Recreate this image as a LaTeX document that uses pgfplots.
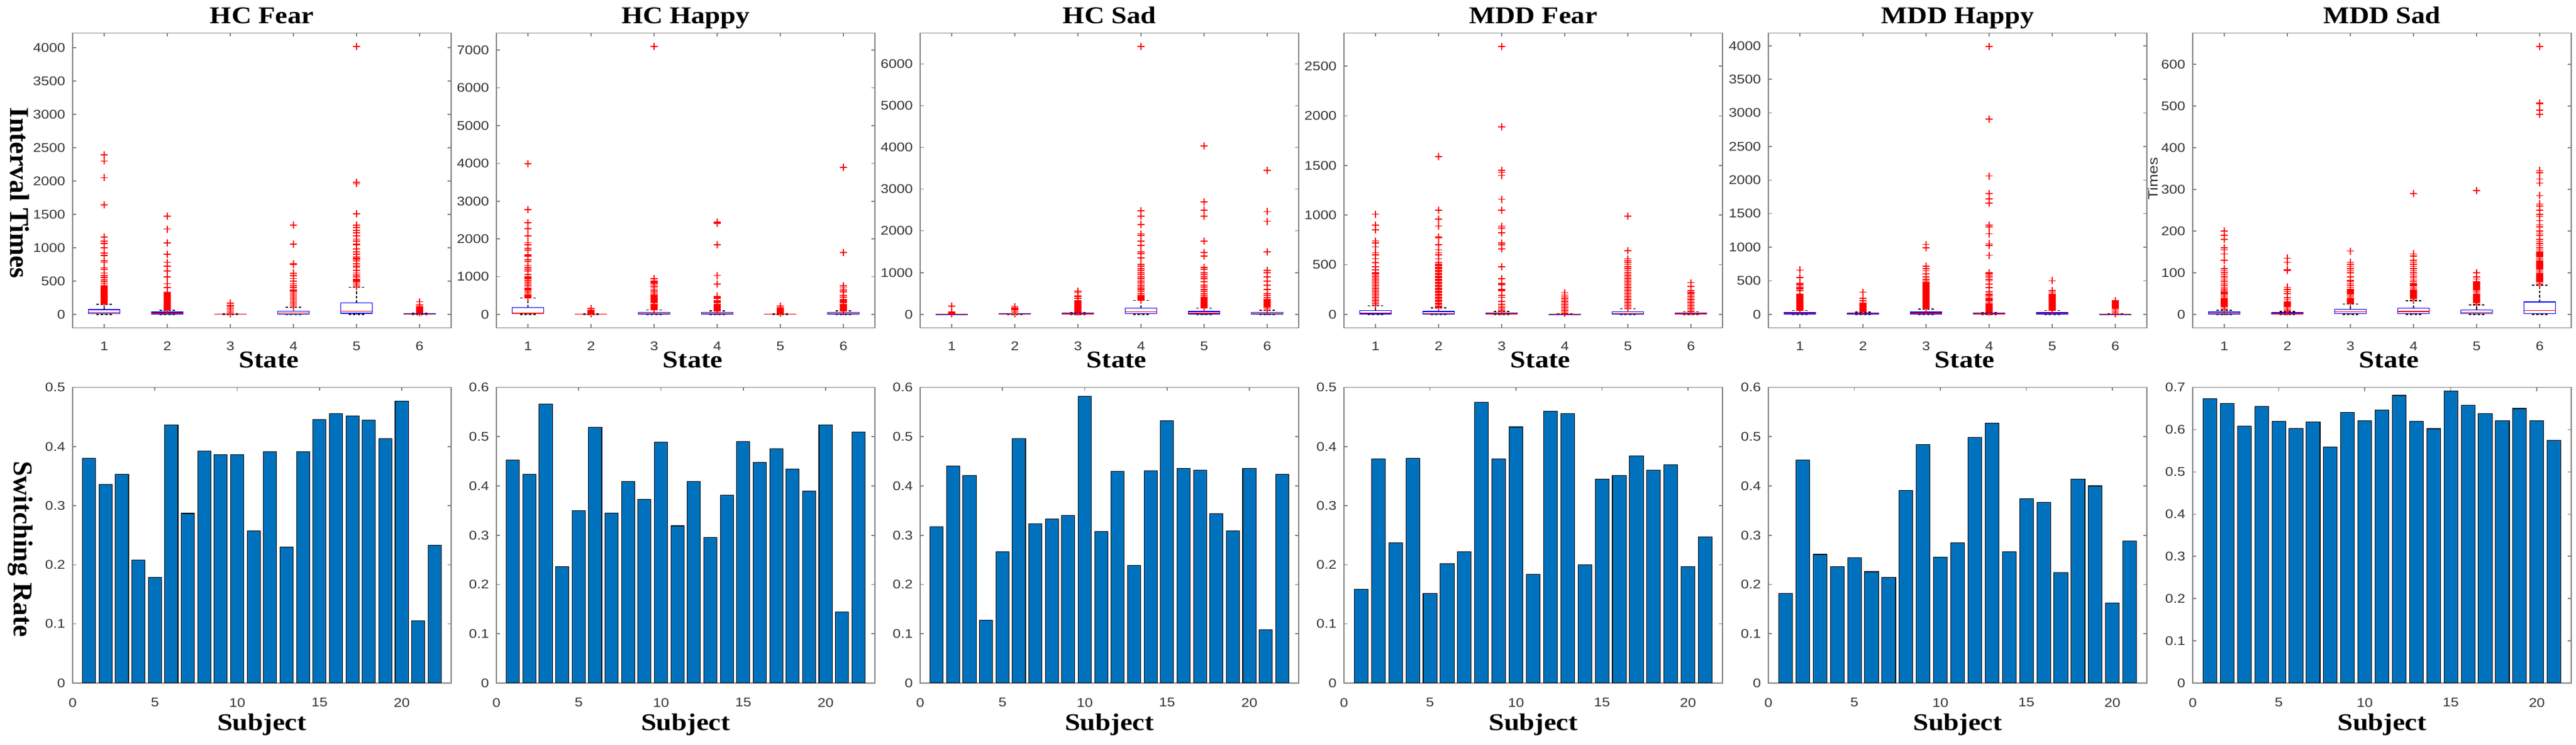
\documentclass[border=0pt]{standalone}
\usepackage{fontspec}
\usepackage{pgfplots}
\pgfplotsset{compat=1.18}
\usepgfplotslibrary{statistics}
\setmainfont{Liberation Serif}
\newfontfamily\arialf[FakeStretch=1.15]{Liberation Sans}
\newfontfamily\timesf[FakeStretch=1.15]{Liberation Serif}
\definecolor{mblue}{HTML}{0072BD}
\definecolor{tk}{HTML}{333333}
\definecolor{axg}{HTML}{808080}
\newcommand\tickfont{\arialf\fontsize{6}{7}\selectfont}
\newcommand\ttlfont{\timesf\bfseries\fontsize{11.5}{13}\selectfont}
\newcommand\ylfont{\rmfamily\bfseries\fontsize{13}{15}\selectfont}
\pgfplotsset{
  base/.style={scale only axis, width=63.6mm, anchor=south west,
    axis line style={draw=axg, line width=0.45pt},
    tick style={draw=axg, line width=0.45pt},
    major tick length=0.6mm, tick align=inside, tick pos=both,
    tick label style={font=\tickfont, text=tk},
    /pgf/number format/assume math mode=true,
    /pgf/number format/1000 sep={},
    scaled y ticks=false, scaled x ticks=false},
  topax/.style={base, height=49.5mm, xmin=0.5, xmax=6.5, xtick={1,2,3,4,5,6},
    xticklabel style={yshift=-1.1mm},
    boxplot/draw direction=y,
    boxplot/box extend=0.5, boxplot/whisker extend=0.25,
    boxplot/every median/.style={draw=red, line width=0.4pt},
    boxplot/every whisker/.style={draw=black, line width=0.4pt, dash pattern=on 1.2pt off 0.9pt},
    boxplot/every box/.style={draw=blue, line width=0.4pt}},
  botax/.style={base, height=49.65mm, xmin=0, ymin=0, xtick={0,5,10,15,20},
    xticklabel style={yshift=-1.3mm},
    yticklabel style={/pgf/number format/fixed, /pgf/number format/precision=1}},
  bx/.style={boxplot prepared={#1}, boxplot/draw direction=y, draw=blue, line width=0.4pt},
  ol/.style={only marks, mark=+, red, mark size=0.6mm, line width=0.5pt},
  br/.style={ybar, bar width=0.8, fill=mblue, draw=black, line width=0.3pt},
}
\begin{document}
\begin{tikzpicture}
\path[use as bounding box] (0,0) rectangle (432.8mm,125.1mm);

% ===================== TOP ROW: boxplots =====================
% HC Fear
\begin{axis}[topax, at={(12.2mm,70.06mm)}, ymin=-201, ymax=4221, ytick={0,500,...,4000}]
\addplot[bx={draw position=1, lower whisker=0, lower quartile=10, median=30, upper quartile=70, upper whisker=150}] coordinates {};
\addplot[bx={draw position=2, lower whisker=0, lower quartile=5, median=15, upper quartile=35, upper whisker=63}] coordinates {};
\addplot[bx={draw position=3, lower whisker=0, lower quartile=1, median=2, upper quartile=4, upper whisker=8}] coordinates {};
\addplot[bx={draw position=4, lower whisker=0, lower quartile=5, median=20, upper quartile=50, upper whisker=105}] coordinates {};
\addplot[bx={draw position=5, lower whisker=0, lower quartile=15, median=50, upper quartile=175, upper whisker=408}] coordinates {};
\addplot[bx={draw position=6, lower whisker=0, lower quartile=2, median=5, upper quartile=10, upper whisker=20}] coordinates {};
\addplot[ol] coordinates {
(1,160)(1,178)(1,196)(1,214)(1,232)(1,250)(1,268)(1,286)(1,304)(1,322)(1,340)(1,358)(1,376)(1,394)(1,412)(1,430)(1,460)(1,490)(1,520)(1,550)(1,580)(1,620)(1,680)(1,700)(1,780)(1,800)(1,880)(1,920)(1,1000)(1,1060)(1,1100)(1,1160)(1,1640)(1,2050)(1,2300)(1,2390)
(2,70)(2,88)(2,106)(2,124)(2,142)(2,160)(2,178)(2,196)(2,214)(2,232)(2,250)(2,268)(2,286)(2,304)(2,322)(2,330)(2,400)(2,460)(2,560)(2,650)(2,720)(2,780)(2,900)(2,1070)(2,1280)(2,1470)
(3,10)(3,12)(3,30)(3,48)(3,66)(3,84)(3,102)(3,120)(3,130)(3,170)
(4,110)(4,128)(4,146)(4,164)(4,182)(4,200)(4,218)(4,236)(4,254)(4,272)(4,290)(4,308)(4,326)(4,344)(4,362)(4,370)(4,400)(4,430)(4,460)(4,500)(4,540)(4,580)(4,610)(4,620)(4,750)(4,760)(4,1050)(4,1340)
(5,415)(5,433)(5,451)(5,469)(5,487)(5,505)(5,523)(5,560)(5,590)(5,620)(5,660)(5,700)(5,720)(5,760)(5,800)(5,830)(5,850)(5,870)(5,900)(5,940)(5,980)(5,1040)(5,1050)(5,1100)(5,1130)(5,1180)(5,1220)(5,1260)(5,1300)(5,1340)(5,1510)(5,1960)(5,1980)(5,4020)
(6,25)(6,43)(6,61)(6,79)(6,97)(6,115)(6,140)(6,190)};
\end{axis}

% HC Happy
\begin{axis}[topax, at={(83.4mm,70.06mm)}, ymin=-355, ymax=7455, ytick={0,1000,...,7000}]
\addplot[bx={draw position=1, lower whisker=0, lower quartile=20, median=30, upper quartile=180, upper whisker=435}] coordinates {};
\addplot[bx={draw position=2, lower whisker=0, lower quartile=2, median=5, upper quartile=10, upper whisker=15}] coordinates {};
\addplot[bx={draw position=3, lower whisker=0, lower quartile=10, median=20, upper quartile=56, upper whisker=120}] coordinates {};
\addplot[bx={draw position=4, lower whisker=0, lower quartile=5, median=20, upper quartile=50, upper whisker=90}] coordinates {};
\addplot[bx={draw position=5, lower whisker=0, lower quartile=2, median=5, upper quartile=10, upper whisker=20}] coordinates {};
\addplot[bx={draw position=6, lower whisker=0, lower quartile=5, median=20, upper quartile=50, upper whisker=90}] coordinates {};
\addplot[ol] coordinates {
(1,440)(1,470)(1,500)(1,520)(1,560)(1,600)(1,640)(1,680)(1,700)(1,750)(1,800)(1,850)(1,900)(1,940)(1,980)(1,1000)(1,1050)(1,1150)(1,1200)(1,1250)(1,1300)(1,1400)(1,1450)(1,1550)(1,1570)(1,1700)(1,1750)(1,1850)(1,1900)(1,2080)(1,2270)(1,2430)(1,2780)(1,3990)
(2,18)(2,20)(2,50)(2,80)(2,110)(2,150)
(3,125)(3,155)(3,185)(3,215)(3,245)(3,275)(3,305)(3,335)(3,365)(3,395)(3,425)(3,455)(3,485)(3,515)(3,560)(3,600)(3,640)(3,700)(3,740)(3,780)(3,820)(3,850)(3,880)(3,940)(3,7100)
(4,95)(4,125)(4,155)(4,185)(4,215)(4,245)(4,275)(4,305)(4,335)(4,365)(4,420)(4,460)(4,480)(4,800)(4,1030)(4,1840)(4,2410)(4,2440)
(5,22)(5,30)(5,60)(5,90)(5,120)(5,150)(5,175)(5,220)
(6,95)(6,125)(6,155)(6,185)(6,215)(6,245)(6,275)(6,305)(6,335)(6,365)(6,395)(6,450)(6,500)(6,600)(6,650)(6,700)(6,750)(6,1640)(6,3890)};
\end{axis}

% HC Sad
\begin{axis}[topax, at={(154.6mm,70.06mm)}, ymin=-321, ymax=6741, ytick={0,1000,...,6000}]
\addplot[bx={draw position=1, lower whisker=0, lower quartile=1, median=2, upper quartile=5, upper whisker=8}] coordinates {};
\addplot[bx={draw position=2, lower whisker=0, lower quartile=2, median=5, upper quartile=10, upper whisker=15}] coordinates {};
\addplot[bx={draw position=3, lower whisker=0, lower quartile=5, median=10, upper quartile=30, upper whisker=50}] coordinates {};
\addplot[bx={draw position=4, lower whisker=0, lower quartile=20, median=60, upper quartile=150, upper whisker=337}] coordinates {};
\addplot[bx={draw position=5, lower whisker=0, lower quartile=5, median=25, upper quartile=67, upper whisker=152}] coordinates {};
\addplot[bx={draw position=6, lower whisker=0, lower quartile=5, median=20, upper quartile=50, upper whisker=100}] coordinates {};
\addplot[ol] coordinates {
(1,10)(1,12)(1,40)(1,60)(1,200)
(2,18)(2,20)(2,48)(2,76)(2,104)(2,130)(2,160)(2,190)
(3,55)(3,83)(3,111)(3,139)(3,167)(3,195)(3,223)(3,251)(3,279)(3,300)(3,330)(3,380)(3,430)(3,440)(3,520)(3,560)
(4,345)(4,373)(4,401)(4,429)(4,450)(4,500)(4,560)(4,600)(4,620)(4,650)(4,700)(4,750)(4,800)(4,850)(4,900)(4,950)(4,1000)(4,1050)(4,1100)(4,1150)(4,1200)(4,1350)(4,1450)(4,1500)(4,1650)(4,1750)(4,1900)(4,1930)(4,2150)(4,2350)(4,2480)(4,6420)
(5,160)(5,188)(5,216)(5,244)(5,272)(5,300)(5,328)(5,356)(5,384)(5,412)(5,420)(5,460)(5,500)(5,550)(5,600)(5,650)(5,700)(5,780)(5,850)(5,900)(5,950)(5,1000)(5,1080)(5,1130)(5,1400)(5,1480)(5,1750)(5,2350)(5,2500)(5,2700)(5,4040)
(6,105)(6,133)(6,161)(6,189)(6,217)(6,245)(6,273)(6,301)(6,329)(6,350)(6,400)(6,450)(6,500)(6,600)(6,700)(6,800)(6,900)(6,1000)(6,1050)(6,1500)(6,2230)(6,2460)(6,3450)};
\end{axis}

% MDD Fear
\begin{axis}[topax, at={(225.8mm,70.06mm)}, ymin=-135, ymax=2835, ytick={0,500,...,2500}]
\addplot[bx={draw position=1, lower whisker=0, lower quartile=5, median=15, upper quartile=40, upper whisker=88}] coordinates {};
\addplot[bx={draw position=2, lower whisker=0, lower quartile=5, median=10, upper quartile=30, upper whisker=65}] coordinates {};
\addplot[bx={draw position=3, lower whisker=0, lower quartile=2, median=5, upper quartile=15, upper whisker=30}] coordinates {};
\addplot[bx={draw position=4, lower whisker=0, lower quartile=0, median=2, upper quartile=4, upper whisker=8}] coordinates {};
\addplot[bx={draw position=5, lower whisker=0, lower quartile=5, median=10, upper quartile=25, upper whisker=55}] coordinates {};
\addplot[bx={draw position=6, lower whisker=0, lower quartile=2, median=5, upper quartile=15, upper whisker=25}] coordinates {};
\addplot[ol] coordinates {
(1,92)(1,107)(1,122)(1,137)(1,152)(1,167)(1,182)(1,197)(1,212)(1,227)(1,242)(1,257)(1,272)(1,287)(1,302)(1,317)(1,332)(1,347)(1,362)(1,377)(1,392)(1,407)(1,420)(1,450)(1,480)(1,520)(1,560)(1,600)(1,620)(1,680)(1,720)(1,740)(1,850)(1,900)(1,1010)
(2,70)(2,85)(2,100)(2,115)(2,130)(2,145)(2,160)(2,175)(2,190)(2,205)(2,220)(2,235)(2,250)(2,265)(2,280)(2,295)(2,310)(2,325)(2,340)(2,355)(2,370)(2,385)(2,400)(2,415)(2,430)(2,445)(2,460)(2,475)(2,490)(2,505)(2,520)(2,560)(2,600)(2,620)(2,650)(2,700)(2,770)(2,780)(2,890)(2,960)(2,1050)(2,1590)
(3,35)(3,50)(3,65)(3,80)(3,100)(3,130)(3,170)(3,190)(3,240)(3,250)(3,300)(3,310)(3,360)(3,480)(3,660)(3,700)(3,720)(3,820)(3,870)(3,890)(3,1050)(3,1160)(3,1400)(3,1430)(3,1450)(3,1890)(3,2700)
(4,9)(4,12)(4,27)(4,42)(4,57)(4,72)(4,87)(4,102)(4,117)(4,132)(4,147)(4,162)(4,177)(4,194)(4,218)
(5,60)(5,75)(5,90)(5,105)(5,120)(5,135)(5,150)(5,165)(5,180)(5,195)(5,210)(5,225)(5,240)(5,255)(5,270)(5,285)(5,300)(5,315)(5,330)(5,345)(5,360)(5,375)(5,390)(5,405)(5,420)(5,440)(5,460)(5,480)(5,500)(5,520)(5,540)(5,560)(5,640)(5,990)
(6,30)(6,45)(6,60)(6,75)(6,90)(6,105)(6,120)(6,135)(6,150)(6,165)(6,180)(6,195)(6,210)(6,220)(6,240)(6,280)(6,320)};
\end{axis}

% MDD Happy
\begin{axis}[topax, at={(297.1mm,70.06mm)}, ymin=-200, ymax=4190, ytick={0,500,...,4000}]
\addplot[bx={draw position=1, lower whisker=0, lower quartile=5, median=10, upper quartile=25, upper whisker=55}] coordinates {};
\addplot[bx={draw position=2, lower whisker=0, lower quartile=5, median=10, upper quartile=20, upper whisker=35}] coordinates {};
\addplot[bx={draw position=3, lower whisker=0, lower quartile=5, median=15, upper quartile=35, upper whisker=80}] coordinates {};
\addplot[bx={draw position=4, lower whisker=0, lower quartile=2, median=8, upper quartile=20, upper whisker=30}] coordinates {};
\addplot[bx={draw position=5, lower whisker=0, lower quartile=5, median=12, upper quartile=25, upper whisker=55}] coordinates {};
\addplot[bx={draw position=6, lower whisker=0, lower quartile=0, median=2, upper quartile=4, upper whisker=8}] coordinates {};
\addplot[ol] coordinates {
(1,60)(1,78)(1,96)(1,114)(1,132)(1,150)(1,168)(1,186)(1,204)(1,222)(1,240)(1,258)(1,276)(1,294)(1,300)(1,350)(1,380)(1,400)(1,420)(1,440)(1,460)(1,550)(1,660)
(2,40)(2,58)(2,76)(2,94)(2,112)(2,130)(2,148)(2,166)(2,170)(2,200)(2,240)(2,330)
(3,85)(3,103)(3,121)(3,139)(3,157)(3,175)(3,193)(3,211)(3,229)(3,247)(3,265)(3,283)(3,301)(3,319)(3,337)(3,355)(3,373)(3,391)(3,409)(3,427)(3,445)(3,460)(3,480)(3,500)(3,520)(3,560)(3,600)(3,650)(3,680)(3,720)(3,990)(3,1040)
(4,35)(4,53)(4,71)(4,89)(4,107)(4,125)(4,143)(4,161)(4,180)(4,200)(4,220)(4,240)(4,260)(4,280)(4,300)(4,330)(4,340)(4,400)(4,450)(4,500)(4,520)(4,560)(4,580)(4,600)(4,620)(4,880)(4,1030)(4,1050)(4,1200)(4,1300)(4,1330)(4,1660)(4,1720)(4,1800)(4,2060)(4,2910)(4,3990)
(5,60)(5,78)(5,96)(5,114)(5,132)(5,150)(5,168)(5,186)(5,204)(5,222)(5,240)(5,258)(5,276)(5,294)(5,300)(5,330)(5,350)(5,500)
(6,10)(6,12)(6,30)(6,48)(6,66)(6,84)(6,102)(6,120)(6,138)(6,156)(6,174)(6,185)(6,200)};
\end{axis}

% MDD Sad
\begin{axis}[topax, at={(368.4mm,70.06mm)}, ymin=-32, ymax=675, ytick={0,100,...,600}]
\addplot[bx={draw position=1, lower whisker=0, lower quartile=0.5, median=2, upper quartile=5.5, upper whisker=10}] coordinates {};
\addplot[bx={draw position=2, lower whisker=0, lower quartile=0.5, median=1.5, upper quartile=4, upper whisker=7}] coordinates {};
\addplot[bx={draw position=3, lower whisker=0, lower quartile=2, median=6, upper quartile=12, upper whisker=25}] coordinates {};
\addplot[bx={draw position=4, lower whisker=0, lower quartile=2, median=7, upper quartile=15, upper whisker=33}] coordinates {};
\addplot[bx={draw position=5, lower whisker=0, lower quartile=2, median=5, upper quartile=11, upper whisker=23}] coordinates {};
\addplot[bx={draw position=6, lower whisker=0, lower quartile=2, median=9.6, upper quartile=30, upper whisker=70}] coordinates {};
\addplot[ol] coordinates {
(1,12)(1,15)(1,18)(1,21)(1,24)(1,27)(1,30)(1,33)(1,36)(1,39)(1,42)(1,45)(1,48)(1,51)(1,54)(1,58)(1,62)(1,65)(1,70)(1,75)(1,80)(1,85)(1,90)(1,95)(1,100)(1,105)(1,110)(1,130)(1,145)(1,155)(1,160)(1,180)(1,190)(1,200)
(2,9)(2,12)(2,15)(2,18)(2,21)(2,24)(2,27)(2,30)(2,35)(2,40)(2,50)(2,55)(2,60)(2,65)(2,105)(2,107)(2,125)(2,135)
(3,27)(3,30)(3,33)(3,36)(3,39)(3,42)(3,45)(3,48)(3,51)(3,54)(3,57)(3,60)(3,65)(3,70)(3,75)(3,80)(3,82)(3,90)(3,100)(3,105)(3,110)(3,115)(3,120)(3,125)(3,152)
(4,35)(4,38)(4,41)(4,44)(4,47)(4,50)(4,53)(4,56)(4,59)(4,62)(4,65)(4,68)(4,71)(4,74)(4,80)(4,85)(4,90)(4,95)(4,100)(4,105)(4,110)(4,115)(4,120)(4,125)(4,130)(4,140)(4,145)(4,290)
(5,25)(5,28)(5,31)(5,34)(5,37)(5,40)(5,43)(5,46)(5,49)(5,52)(5,55)(5,58)(5,61)(5,64)(5,67)(5,70)(5,73)(5,76)(5,79)(5,85)(5,90)(5,100)(5,297)
(6,72)(6,75)(6,78)(6,81)(6,84)(6,87)(6,90)(6,93)(6,96)(6,99)(6,102)(6,105)(6,108)(6,111)(6,114)(6,117)(6,120)(6,123)(6,126)(6,129)(6,132)(6,135)(6,138)(6,141)(6,144)(6,147)(6,150)(6,155)(6,160)(6,165)(6,170)(6,175)(6,180)(6,190)(6,195)(6,200)(6,210)(6,215)(6,225)(6,235)(6,240)(6,250)(6,260)(6,265)(6,285)(6,315)(6,325)(6,340)(6,345)(6,480)(6,490)(6,505)(6,507)(6,643)};
\end{axis}

% ===================== BOTTOM ROW: bars =====================
\begin{axis}[botax, at={(12.2mm,10.4mm)}, xmax=23, ymax=0.5, ytick={0,0.1,...,0.5}]
\addplot[br] coordinates {(1,0.380)(2,0.336)(3,0.353)(4,0.208)(5,0.179)(6,0.437)(7,0.287)(8,0.392)(9,0.386)(10,0.386)(11,0.257)(12,0.391)(13,0.230)(14,0.391)(15,0.446)(16,0.456)(17,0.452)(18,0.445)(19,0.413)(20,0.477)(21,0.105)(22,0.233)};
\end{axis}
\begin{axis}[botax, at={(83.4mm,10.4mm)}, xmax=23, ymax=0.6, ytick={0,0.1,...,0.6}]
\addplot[br] coordinates {(1,0.452)(2,0.424)(3,0.566)(4,0.236)(5,0.350)(6,0.519)(7,0.345)(8,0.409)(9,0.373)(10,0.489)(11,0.319)(12,0.409)(13,0.296)(14,0.381)(15,0.490)(16,0.448)(17,0.476)(18,0.435)(19,0.390)(20,0.524)(21,0.144)(22,0.509)};
\end{axis}
\begin{axis}[botax, at={(154.6mm,10.4mm)}, xmax=23, ymax=0.6, ytick={0,0.1,...,0.6}]
\addplot[br] coordinates {(1,0.317)(2,0.440)(3,0.421)(4,0.128)(5,0.266)(6,0.496)(7,0.323)(8,0.333)(9,0.340)(10,0.582)(11,0.308)(12,0.430)(13,0.239)(14,0.431)(15,0.532)(16,0.436)(17,0.432)(18,0.344)(19,0.309)(20,0.436)(21,0.108)(22,0.424)};
\end{axis}
\begin{axis}[botax, at={(225.8mm,10.4mm)}, xmax=22, ymax=0.5, ytick={0,0.1,...,0.5}]
\addplot[br] coordinates {(1,0.159)(2,0.379)(3,0.237)(4,0.380)(5,0.152)(6,0.202)(7,0.222)(8,0.475)(9,0.379)(10,0.433)(11,0.184)(12,0.460)(13,0.456)(14,0.200)(15,0.345)(16,0.351)(17,0.384)(18,0.360)(19,0.369)(20,0.197)(21,0.247)};
\end{axis}
\begin{axis}[botax, at={(297.1mm,10.4mm)}, xmax=22, ymax=0.6, ytick={0,0.1,...,0.6}]
\addplot[br] coordinates {(1,0.182)(2,0.452)(3,0.261)(4,0.236)(5,0.254)(6,0.226)(7,0.215)(8,0.391)(9,0.484)(10,0.256)(11,0.285)(12,0.499)(13,0.527)(14,0.267)(15,0.374)(16,0.367)(17,0.224)(18,0.414)(19,0.400)(20,0.163)(21,0.288)};
\end{axis}
\begin{axis}[botax, at={(368.4mm,10.4mm)}, xmax=22, ymax=0.7, ytick={0,0.1,...,0.7}]
\addplot[br] coordinates {(1,0.673)(2,0.662)(3,0.609)(4,0.655)(5,0.620)(6,0.603)(7,0.618)(8,0.559)(9,0.641)(10,0.621)(11,0.647)(12,0.681)(13,0.620)(14,0.602)(15,0.692)(16,0.658)(17,0.638)(18,0.621)(19,0.650)(20,0.621)(21,0.575)};
\end{axis}

% ===================== labels =====================
\foreach \cx/\tt in {44.0/HC Fear, 115.2/HC Happy, 186.4/HC Sad, 257.6/MDD Fear, 328.9/MDD Happy, 400.2/MDD Sad}{
  \node[font=\ttlfont, anchor=base] at (\cx mm,121.1mm) {\tt};
  \node[font=\ttlfont, anchor=base] at (\cx mm+1.2mm,63.3mm) {State};
  \node[font=\ttlfont, anchor=base] at (\cx mm,2.4mm) {Subject};
}
\node[font=\ylfont, rotate=-90] at (3.3mm,92.7mm) {Interval Times};
\node[font=\ylfont, rotate=-90] at (3.4mm,32.9mm) {Switching Rate};
\node[font=\arialf\fontsize{6.5}{7}\selectfont, text=tk, rotate=90] at (361.75mm,95.1mm) {Times};
\end{tikzpicture}
\end{document}
